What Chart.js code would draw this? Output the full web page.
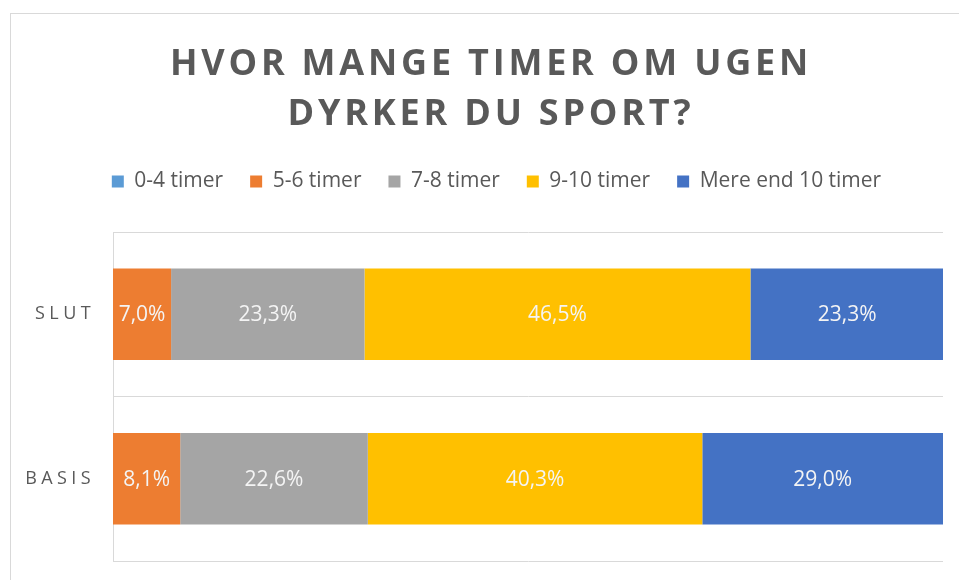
<!DOCTYPE html>
<html>
<head>
<meta charset="utf-8">
<script src="https://cdn.jsdelivr.net/npm/chart.js@4.4.0/dist/chart.umd.min.js"></script>
<style>
html, body { margin: 0; padding: 0; background: #fff; overflow: hidden; width: 959px; height: 580px; }
#frame { position: absolute; left: 10px; top: 13px; width: 971px; height: 580px; border: 1px solid #d9d9d9; }
#frame canvas { display: block; }
</style>
</head>
<body>
<div id="frame"><canvas id="myChart" width="971" height="566"></canvas></div>
<script>
const categories = ['SLUT', 'BASIS'];
const seriesNames = ['0-4 timer', '5-6 timer', '7-8 timer', '9-10 timer', 'Mere end 10 timer'];
const seriesColors = ['#5B9BD5', '#ED7D31', '#A5A5A5', '#FFC000', '#4472C4'];
const hours0to4 = [0, 0];
const hours5to6 = [7.0, 8.1];
const hours7to8 = [23.3, 22.6];
const hours9to10 = [46.5, 40.3];
const hoursOver10 = [23.3, 29.0];
const titleLines = ['HVOR MANGE TIMER OM UGEN', 'DYRKER DU SPORT?'];

const seriesValues = [hours0to4, hours5to6, hours7to8, hours9to10, hoursOver10];

const data = {
  labels: categories,
  datasets: seriesNames.map((name, i) => ({
    label: name,
    data: seriesValues[i],
    backgroundColor: seriesColors[i],
    borderWidth: 0,
    barPercentage: 0.556,
    categoryPercentage: 1
  }))
};

// legend needs more room below it, like the original
const tallLegend = {
  id: 'tallLegend',
  beforeLayout(chart) {
    const lg = chart.legend;
    if (lg && !lg._tall) {
      const fit = lg.fit;
      lg.fit = function () { fit.call(this); this.height += 30; };
      lg._tall = true;
    }
  }
};

// percentage labels inside the bars
const barLabels = {
  id: 'barLabels',
  afterDatasetsDraw(chart) {
    const ctx = chart.ctx;
    ctx.save();
    ctx.font = "21px 'Open Sans'";
    ctx.fillStyle = '#f4f4f4';
    ctx.textAlign = 'center';
    ctx.textBaseline = 'middle';
    chart.data.datasets.forEach((ds, i) => {
      chart.getDatasetMeta(i).data.forEach((bar, j) => {
        const v = ds.data[j];
        if (!v) return;
        ctx.fillText(v.toFixed(1).replace('.', ',') + '%', (bar.x + bar.base) / 2, bar.y + 1);
      });
    });
    ctx.restore();
  }
};

// spaced-out title and category names
const spacedText = {
  id: 'spacedText',
  afterDraw(chart) {
    const ctx = chart.ctx;
    ctx.save();
    ctx.fillStyle = '#595959';
    ctx.textAlign = 'center';
    ctx.textBaseline = 'alphabetic';
    ctx.font = "bold 36px 'Open Sans'";
    ctx.letterSpacing = '3.8px';
    ctx.fillText(titleLines[0], 480, 61);
    ctx.fillText(titleLines[1], 480, 111);

    const y = chart.scales.y;
    ctx.font = "18px 'Open Sans'";
    ctx.letterSpacing = '4.4px';
    ctx.textAlign = 'right';
    ctx.textBaseline = 'middle';
    categories.forEach((c, i) => ctx.fillText(c, 84, y.getPixelForValue(i)));
    ctx.restore();
  }
};

const config = {
  type: 'bar',
  data: data,
  options: {
    indexAxis: 'y',
    responsive: false,
    animation: false,
    layout: { padding: { top: 130, bottom: 19, left: 0, right: 0 } },
    plugins: {
      title: { display: false },
      tooltip: { enabled: false },
      legend: {
        position: 'top',
        labels: {
          boxWidth: 12,
          boxHeight: 12,
          padding: 27,
          color: '#595959',
          font: { size: 21 }
        }
      }
    },
    scales: {
      x: { stacked: true, display: false, min: 0, max: 100 },
      y: {
        stacked: true,
        grid: { color: '#d9d9d9', lineWidth: 1, drawTicks: false, offset: true },
        border: { color: '#d9d9d9' },
        ticks: { display: false },
        afterFit(s) { s.width = 102; }
      },
      yRight: {
        type: 'category',
        position: 'right',
        grid: { display: false },
        border: { display: false },
        ticks: { display: false },
        afterFit(s) { s.width = 39; }
      }
    }
  },
  plugins: [tallLegend, barLabels, spacedText]
};

Chart.defaults.font.family = "'Open Sans', sans-serif";

Promise.all([
  document.fonts.load("bold 36px 'Open Sans'"),
  document.fonts.load("21px 'Open Sans'")
]).catch(() => {}).then(() => {
  /* Rendering the Chart */
  const myChart = new Chart(document.getElementById('myChart'), config);
});
</script>
</body>
</html>
